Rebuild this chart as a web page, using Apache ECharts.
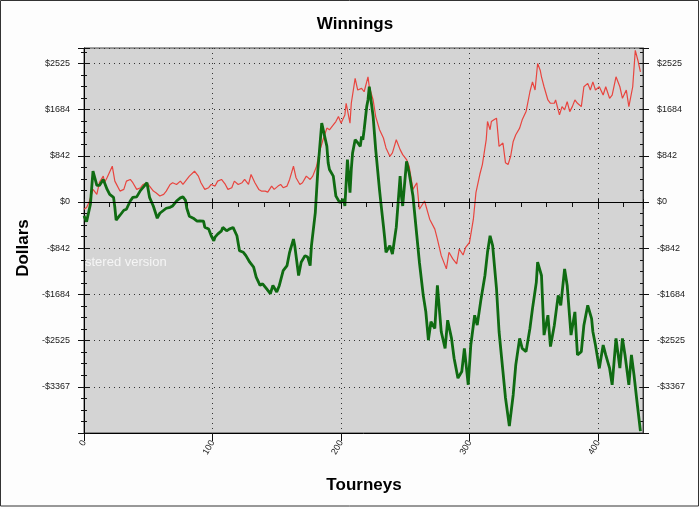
<!DOCTYPE html>
<html>
<head>
<meta charset="utf-8">
<script src="https://cdn.jsdelivr.net/npm/echarts@6/dist/echarts.min.js"></script>
<style>
html,body{margin:0;padding:0;background:#fdfdfd;}
#chart{width:700px;height:509px;}
</style>
</head>
<body>
<div id="chart"></div>
<script>
// ---- data ----
const redX = [0,2,4,7,10,12,15,16,18,22,24,28,31,33,36,38,41,44,46,49,51,54,56,59,62,64,67,69,72,75,77,80,82,86,89,91,94,97,99,102,104,107,110,112,115,117,120,123,125,128,130,133,136,138,141,143,146,148,151,153,155,158,160,163,165,168,170,173,176,178,181,183,186,189,191,194,196,198,200,203,204,207,208,211,213,216,218,221,222,225,227,230,233,235,238,240,243,246,248,251,253,256,259,261,265,269,273,275,278,282,284,287,290,292,295,297,300,303,305,308,310,313,314,316,317,319,321,323,326,328,330,332,334,336,339,341,344,347,349,351,353,355,356,358,361,363,366,367,370,372,374,376,378,380,382,384,387,389,392,394,396,398,401,404,406,409,411,414,417,419,422,424,427,429,431,433];
const redY = [-132,-101,-5,230,139,357,471,357,447,652,380,199,230,380,411,351,230,261,320,351,290,199,170,109,139,199,320,351,320,380,320,411,471,561,471,351,230,261,320,290,380,411,320,230,261,380,320,351,411,320,501,351,230,199,199,181,290,230,290,320,261,290,411,652,442,320,351,471,411,471,652,894,1135,1347,1316,1406,1466,1557,1437,1587,1799,1437,1799,2252,2040,2071,2009,2281,2100,1859,1557,1316,1166,985,833,894,1135,954,863,773,652,230,351,-132,18,-313,-494,-675,-977,-1218,-916,-1037,-1128,-856,-965,-825,-735,-313,170,501,682,1135,1466,1316,1466,1497,1528,1014,1075,713,682,833,1104,1225,1347,1497,1647,2009,2190,2040,2523,2402,2281,2100,1859,1799,1799,1859,1587,1738,1678,1828,1647,1738,1859,1799,1738,2100,2161,2040,2190,2040,2100,1949,2100,1890,1949,2281,2100,1890,2040,1738,2100,2764,2583,2371];

const greenX = [0,2,5,7,10,12,15,18,20,23,24,25,28,31,33,36,38,41,44,46,49,51,54,57,59,62,64,67,69,72,75,77,79,80,82,85,88,90,93,94,97,99,101,102,104,107,108,111,113,116,119,121,124,126,129,132,134,137,139,142,145,147,150,152,155,158,160,163,164,167,169,172,174,176,177,180,182,185,186,189,190,191,194,195,196,199,202,203,205,207,208,209,211,213,215,216,217,218,220,221,222,225,227,230,231,233,234,235,238,240,243,246,247,248,251,252,253,256,259,261,264,266,268,270,273,275,278,281,283,286,288,291,294,296,299,301,304,306,309,312,314,316,318,321,323,326,328,331,334,336,339,341,344,347,349,352,353,356,358,361,363,366,369,371,374,376,379,382,384,387,389,392,395,396,398,401,404,406,409,411,414,417,419,421,424,426,428,430,433];
const greenY = [-253,-358,-42,561,302,302,411,230,139,85,-96,-331,-241,-150,-132,18,85,94,212,266,351,85,-78,-295,-205,-150,-114,-96,-72,18,76,94,31,-114,-259,-295,-349,-344,-349,-458,-494,-615,-706,-639,-585,-525,-463,-525,-494,-463,-615,-887,-916,-977,-1097,-1188,-1368,-1520,-1490,-1580,-1671,-1520,-1640,-1520,-1249,-1158,-916,-675,-796,-1339,-1097,-977,-1001,-1158,-796,-192,592,1437,1406,1014,713,592,471,290,109,-11,49,-72,773,170,592,894,1135,1080,1014,1195,1135,1316,1738,1859,2100,1557,954,212,-11,-434,-657,-916,-796,-947,-458,471,109,-72,742,773,532,109,-615,-1097,-1701,-2001,-2515,-2183,-2304,-1520,-2364,-2666,-2154,-2485,-2847,-3209,-3088,-2666,-3330,-2606,-2063,-2244,-1761,-1339,-916,-615,-796,-1580,-2364,-3088,-3571,-4083,-3511,-2968,-2485,-2666,-2726,-2304,-1942,-1459,-1097,-1339,-2425,-2063,-2635,-2244,-1701,-1882,-1218,-1520,-2425,-2002,-2787,-2726,-2244,-1882,-2123,-2364,-2606,-3028,-2606,-2787,-3028,-3330,-2485,-3028,-2485,-2787,-3330,-2787,-3149,-3571,-4174];

const yTickValues = [2525, 1684, 842, 0, -842, -1684, -2525, -3367];
const yTickLabels = ['$2525', '$1684', '$842', '$0', '-$842', '-$1684', '-$2525', '-$3367'];
const xTickValues = [0, 100, 200, 300, 400];
const xTickLabels = ['0', '100', '200', '300', '400'];

// ---- chart ----
const YSTEP = 841.75;
const YMIN = -5 * YSTEP;
const YMAX = 2806;
const XMAX = 435;

function yFmt(v) {
  for (let i = 0; i < yTickValues.length; i++) {
    if (Math.abs(yTickValues[i] - v) < 5) return yTickLabels[i];
  }
  return '';
}
function xFmt(v) {
  for (let i = 0; i < xTickValues.length; i++) {
    if (Math.abs(xTickValues[i] - v) < 0.5) return xTickLabels[i];
  }
  return '';
}
function pairs(xs, ys) { return xs.map((x, i) => [x, ys[i]]); }

const labelFont = { fontFamily: 'Arial, "Liberation Sans", sans-serif', fontSize: 9, color: '#1a1a1a' };
const dotted = { show: true, lineStyle: { color: '#333', width: 1, type: [1, 4] } };

function yAx(pos, interval, opts) {
  return Object.assign({
    type: 'value', position: pos, min: YMIN, max: YMAX, interval: interval,
    axisLine: { show: false }, splitLine: { show: false }, axisLabel: { show: false },
    axisTick: { show: true, length: 3, lineStyle: { color: '#111' } }
  }, opts);
}
function xAx(pos, interval, opts) {
  return Object.assign({
    type: 'value', position: pos, min: 0, max: XMAX, interval: interval,
    axisLine: { show: false }, splitLine: { show: false }, axisLabel: { show: false },
    axisTick: { show: true, length: 3, lineStyle: { color: '#111' } }
  }, opts);
}

const chart = echarts.init(document.getElementById('chart'), null, { renderer: 'canvas' });
chart.setOption({
  backgroundColor: '#fdfdfd',
  animation: false,
  title: {
    text: 'Winnings', left: 350, top: 11, textAlign: 'center',
    textStyle: { fontFamily: 'Arial, "Liberation Sans", sans-serif', fontSize: 17, fontWeight: 'bold', color: '#000' }
  },
  grid: {
    left: 84, top: 48, width: 559, height: 385,
    show: true, backgroundColor: '#d4d4d4', borderColor: '#444', borderWidth: 1
  },
  xAxis: [
    xAx('bottom', 100, {
      axisLine: { show: true, onZero: false, lineStyle: { color: '#000', width: 1 } },
      axisTick: { show: true, length: 8, lineStyle: { color: '#111' } },
      splitLine: dotted,
      axisLabel: Object.assign({ show: true, rotate: 60, margin: 8, formatter: xFmt, showMaxLabel: false }, labelFont)
    }),
    xAx('bottom', 20, { axisTick: { show: true, length: 5, lineStyle: { color: '#111' } } }),
    xAx('bottom', 100, { axisTick: { show: true, inside: true, length: 3, lineStyle: { color: '#111' } } }),
    xAx('top', 100, { axisTick: { show: true, inside: true, length: 7, lineStyle: { color: '#111' } } }),
    xAx('top', 20, { axisTick: { show: true, inside: true, length: 3, lineStyle: { color: '#111' } } })
  ],
  yAxis: [
    yAx('left', YSTEP, {
      axisLine: { show: true, onZero: false, lineStyle: { color: '#000', width: 1 } },
      axisTick: { show: true, length: 6, lineStyle: { color: '#111' } },
      splitLine: dotted,
      axisLabel: Object.assign({ show: true, margin: 14, formatter: yFmt }, labelFont)
    }),
    yAx('left', YSTEP / 4, { axisTick: { show: true, length: 3, lineStyle: { color: '#111' } } }),
    yAx('left', YSTEP, { axisTick: { show: true, inside: true, length: 6, lineStyle: { color: '#111' } } }),
    yAx('left', YSTEP / 4, { axisTick: { show: true, inside: true, length: 3, lineStyle: { color: '#111' } } }),
    yAx('right', YSTEP, {
      axisLine: { show: true, onZero: false, lineStyle: { color: '#333', width: 1 } },
      axisTick: { show: true, length: 6, lineStyle: { color: '#111' } },
      axisLabel: Object.assign({ show: true, margin: 14, formatter: yFmt }, labelFont)
    }),
    yAx('right', YSTEP / 4, { axisTick: { show: true, length: 3, lineStyle: { color: '#111' } } }),
    yAx('right', YSTEP, { axisTick: { show: true, inside: true, length: 6, lineStyle: { color: '#111' } } }),
    yAx('right', YSTEP / 4, { axisTick: { show: true, inside: true, length: 3, lineStyle: { color: '#111' } } })
  ],
  series: [
    {
      name: 'Net', type: 'line', xAxisIndex: 0, yAxisIndex: 0,
      data: pairs(redX, redY), showSymbol: false, symbol: 'none',
      lineStyle: { color: '#e8453f', width: 1.2 }, z: 3,
      markLine: {
        silent: true, symbol: 'none', label: { show: false },
        lineStyle: { color: '#000', width: 1.2, type: 'solid' },
        data: [{ yAxis: 0 }]
      }
    },
    {
      name: 'Winnings', type: 'line', xAxisIndex: 0, yAxisIndex: 0,
      data: pairs(greenX, greenY), showSymbol: false, symbol: 'none',
      lineStyle: { color: '#0f6b12', width: 2.8 }, z: 4
    }
  ],
  graphic: [
    {
      type: 'rect', z: -10, silent: true,
      shape: { x: 0.5, y: 0.5, width: 698, height: 505.5 },
      style: { fill: 'none', stroke: '#333', lineWidth: 1 }
    },
    {
      type: 'text', left: 85, top: 256, z: 10, silent: true,
      style: { text: 'stered version', fill: '#f5f5f5', font: '13px Arial, "Liberation Sans", sans-serif' }
    },
    {
      type: 'text', x: 23, y: 248, rotation: Math.PI / 2, z: 10, silent: true,
      style: { text: 'Dollars', fill: '#000', align: 'center', verticalAlign: 'middle',
        font: 'bold 17px Arial, "Liberation Sans", sans-serif' }
    },
    {
      type: 'text', x: 364, y: 485, z: 10, silent: true,
      style: { text: 'Tourneys', fill: '#000', align: 'center', verticalAlign: 'middle',
        font: 'bold 17px Arial, "Liberation Sans", sans-serif' }
    }
  ]
});
</script>
</body>
</html>
